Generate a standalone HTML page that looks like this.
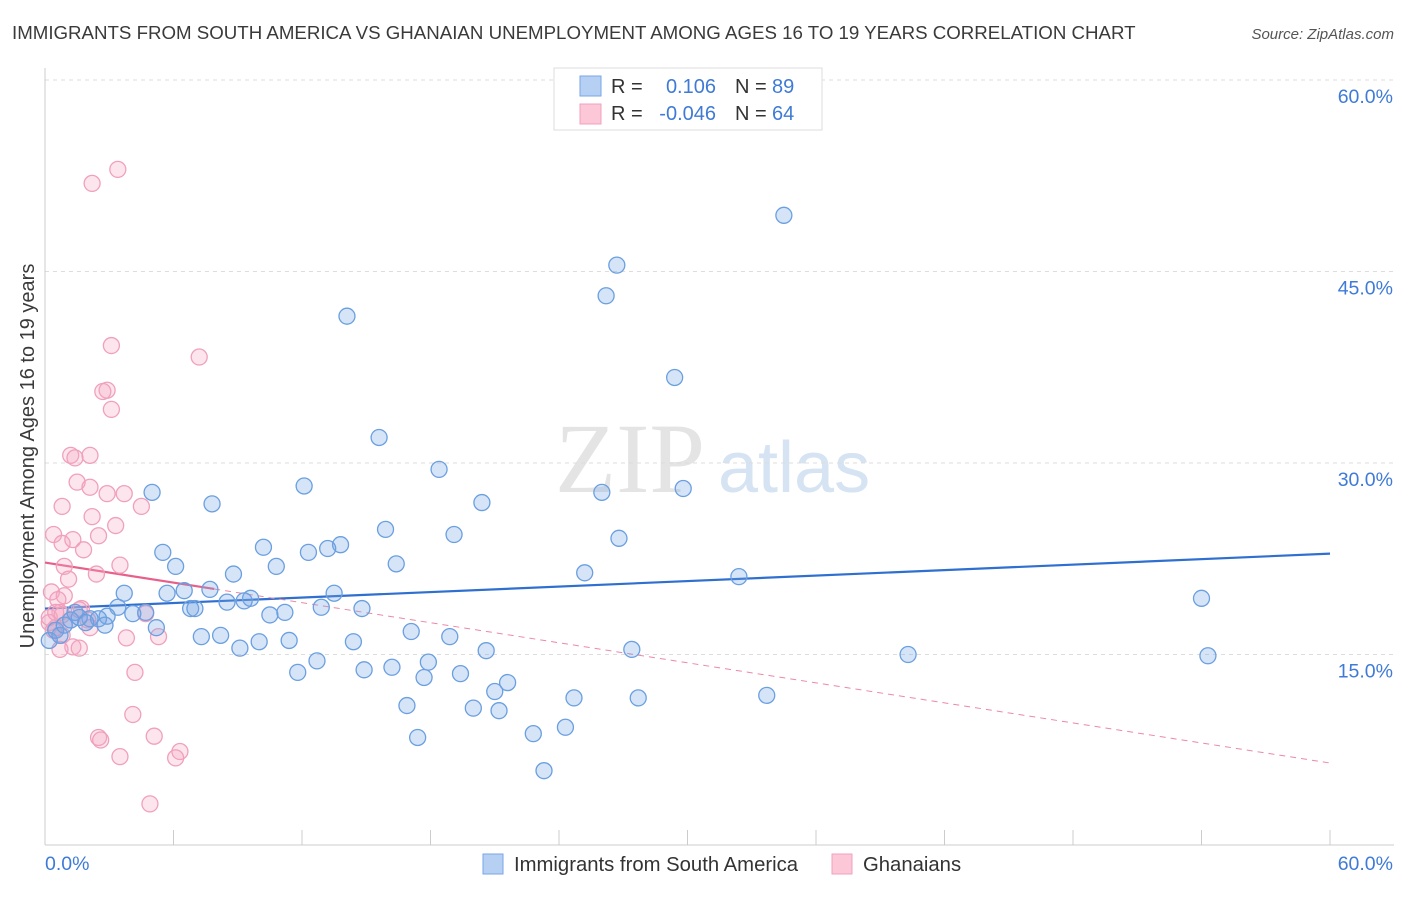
<!DOCTYPE html>
<html><head><meta charset="utf-8"><style>
body{margin:0;background:#fff;font-family:"Liberation Sans",sans-serif;}
</style></head><body>
<svg id="chart" width="1406" height="892" xmlns="http://www.w3.org/2000/svg" font-family="Liberation Sans, sans-serif">
<text x="12" y="39" font-size="18.7" fill="#3a3a3a">IMMIGRANTS FROM SOUTH AMERICA VS GHANAIAN UNEMPLOYMENT AMONG AGES 16 TO 19 YEARS CORRELATION CHART</text>
<text x="1394" y="39" font-size="15" fill="#555" font-style="italic" text-anchor="end">Source: ZipAtlas.com</text>
<text x="555" y="492" font-size="100" fill="#e4e4e4" style="font-family:'Liberation Serif',serif">ZIP</text>
<text x="718" y="492" font-size="72" fill="#d6e3f3">atlas</text>
<g id="grid"></g><g id="axes"></g><g id="trend"></g><g id="pts"></g>
<text transform="translate(34,456) rotate(-90)" font-size="20" fill="#3a3a3a" text-anchor="middle">Unemployment Among Ages 16 to 19 years</text>
<text x="45" y="870" font-size="19.5" fill="#3f7bd6">0.0%</text>
<text x="1393" y="870" font-size="19.5" fill="#3f7bd6" text-anchor="end">60.0%</text>
<g>
<rect x="554" y="68" width="268" height="62" fill="#fff" stroke="#ddd"/>
<rect x="580" y="76" width="21" height="20" fill="#b6d0f4" stroke="#7aa6e6"/>
<rect x="580" y="104" width="21" height="20" fill="#fcc8d8" stroke="#f0a0bc"/>
<text x="611" y="93" font-size="20" fill="#333">R =</text><text x="716" y="93" font-size="20" fill="#3f7bd6" text-anchor="end">0.106</text>
<text x="735" y="93" font-size="20" fill="#333">N =</text><text x="772" y="93" font-size="20" fill="#3f7bd6">89</text>
<text x="611" y="120" font-size="20" fill="#333">R =</text><text x="716" y="120" font-size="20" fill="#3f7bd6" text-anchor="end">-0.046</text>
<text x="735" y="120" font-size="20" fill="#333">N =</text><text x="772" y="120" font-size="20" fill="#3f7bd6">64</text>
</g>
<g>
<rect x="483" y="854" width="20" height="20" fill="#b6d0f4" stroke="#7aa6e6"/>
<text x="514" y="871" font-size="20.3" fill="#333">Immigrants from South America</text>
<rect x="832" y="854" width="20" height="20" fill="#fcc8d8" stroke="#f0a0bc"/>
<text x="863" y="871" font-size="20.3" fill="#333">Ghanaians</text>
</g>
</svg>
<script>
const yTicks=[15,30,45,60];
const yTickLabels=["15.0%","30.0%","45.0%","60.0%"];
const xTicks=[0,6,12,18,24,30,36,42,48,54,60];
const blueX=[34.5,26.7,26.2,14.1,29.4,15.6,18.4,26.0,29.8,5.0,7.8,12.1,20.4,15.9,19.1,26.8,13.8,13.2,10.2,12.3,5.5,16.4,10.8,6.1,8.8,25.2,32.4,7.7,6.5,5.7,13.5,9.6,8.5,9.3,3.7,3.4,6.8,7.0,12.9,14.8,11.2,10.5,4.7,4.1,2.9,2.1,2.5,2.8,5.2,17.1,18.9,7.3,8.2,11.4,10.0,14.4,9.1,20.6,27.4,17.9,12.7,11.8,16.2,14.9,17.7,19.4,21.6,21.0,24.7,27.7,33.7,16.9,20.0,21.2,22.8,24.3,17.4,23.3,40.3,54.0,54.3,0.2,0.5,0.7,0.9,1.2,1.6,1.9,1.4];
const blueY=[49.4,45.5,43.1,41.5,36.7,32.0,29.5,27.7,28.0,27.7,26.8,28.2,26.9,24.8,24.4,24.1,23.6,23.3,23.4,23.0,23.0,22.1,21.9,21.9,21.3,21.4,21.1,20.1,20.0,19.8,19.8,19.4,19.1,19.2,19.8,18.7,18.6,18.6,18.7,18.6,18.3,18.1,18.3,18.2,18.0,17.8,17.8,17.3,17.1,16.8,16.4,16.4,16.5,16.1,16.0,16.0,15.5,15.3,15.4,14.4,14.5,13.6,14.0,13.8,13.2,13.5,12.8,12.1,11.6,11.6,11.8,11.0,10.8,10.6,8.8,9.3,8.5,5.9,15.0,19.4,14.9,16.1,16.9,16.5,17.3,17.7,17.9,17.5,18.3];
const pinkX=[3.4,2.2,3.1,7.2,2.9,2.7,3.1,1.2,2.1,1.4,1.5,2.1,3.7,2.9,4.5,0.8,2.2,3.3,0.4,2.5,1.3,0.8,1.8,3.5,0.9,2.4,1.1,0.3,0.9,0.6,1.7,0.7,1.6,4.7,2.0,0.2,0.5,2.1,3.8,5.3,1.3,1.6,0.7,4.2,4.1,2.5,5.1,2.6,6.3,6.1,3.5,4.9,0.2,0.5,0.8,1.2,0.4,0.8];
const pinkY=[53.0,51.9,39.2,38.3,35.7,35.6,34.2,30.6,30.6,30.4,28.5,28.1,27.6,27.6,26.6,26.6,25.8,25.1,24.4,24.3,24.0,23.7,23.2,22.0,21.9,21.3,20.9,19.9,19.6,19.3,18.6,18.3,18.5,18.2,17.7,17.5,17.1,17.1,16.3,16.4,15.6,15.5,15.4,13.6,10.3,8.5,8.6,8.3,7.4,6.9,7.0,3.3,17.9,18.3,18.1,17.7,16.9,16.5];
const blueTrend=[18.6,22.9];
const pinkTrend=[22.2,6.5];
const pinkSolidEnd=7.9;
const NS="http://www.w3.org/2000/svg";
const X0=45,X1=1330,Y0=846,PX=(X1-X0)/60,PY=191.5/15;
function sx(v){return X0+v*PX;}
function sy(v){return Y0-v*PY;}
function mk(tag,attrs,parent){const e=document.createElementNS(NS,tag);for(const k in attrs)e.setAttribute(k,attrs[k]);document.getElementById(parent).appendChild(e);return e;}
yTicks.forEach((t,i)=>{
 const l=mk('line',{x1:45,x2:1394,y1:sy(t),y2:sy(t),stroke:'#ddd','stroke-dasharray':'4,4'},'grid');
 
 
 const tx=mk('text',{x:1393,y:sy(t)+23,'font-size':19.5,fill:'#3f7bd6','text-anchor':'end'},'grid');
 tx.textContent=yTickLabels[i];
 
 
});
const xa=mk('line',{x1:45,x2:1394,y1:845,y2:845,stroke:'#ccc'},'axes');


const ya=mk('line',{x1:45,x2:45,y1:68,y2:845,stroke:'#ccc'},'axes');


xTicks.forEach(t=>{
 const l=mk('line',{x1:sx(t),x2:sx(t),y1:830,y2:845,stroke:'#ccc'},'axes');
 
 
});
pinkX.forEach((x,i)=>{
 const c=mk('circle',{cx:sx(x),cy:sy(pinkY[i]),r:8,fill:'rgba(246,170,196,0.3)',stroke:'#f0a0bc','stroke-width':1.3},'pts');
 
 
});
blueX.forEach((x,i)=>{
 const c=mk('circle',{cx:sx(x),cy:sy(blueY[i]),r:8,fill:'rgba(120,165,230,0.3)',stroke:'#6a9fe0','stroke-width':1.3},'pts');
 
 
});
const bt=mk('line',{x1:sx(0),y1:sy(blueTrend[0]),x2:sx(60),y2:sy(blueTrend[1]),stroke:'#2f6fd0','stroke-width':2.2},'trend');


const pm=pinkTrend[0]+(pinkTrend[1]-pinkTrend[0])*pinkSolidEnd/60;
const ps=mk('line',{x1:sx(0),y1:sy(pinkTrend[0]),x2:sx(pinkSolidEnd),y2:sy(pm),stroke:'#e8608a','stroke-width':2.2},'trend');


const pd=mk('line',{x1:sx(pinkSolidEnd),y1:sy(pm),x2:sx(60),y2:sy(pinkTrend[1]),stroke:'#ec88a8','stroke-width':1,'stroke-dasharray':'6,5'},'trend');


</script>
</body></html>
